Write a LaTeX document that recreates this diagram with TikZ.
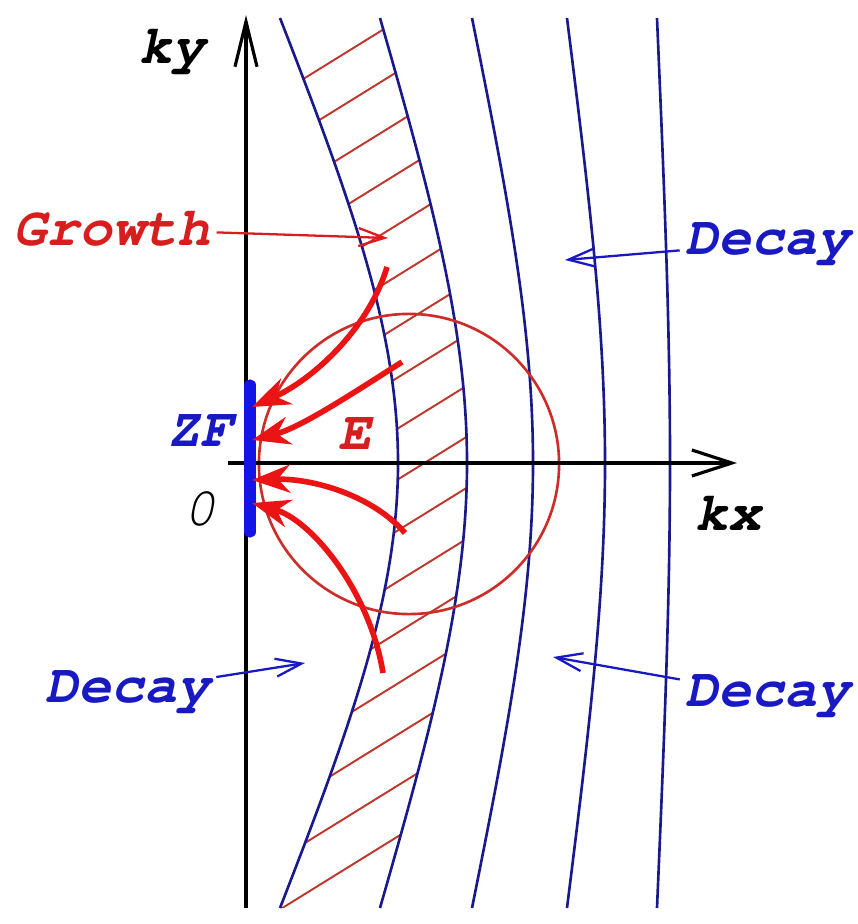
\documentclass[tikz,border=0pt]{standalone}
\usepackage[T1]{fontenc}
\usetikzlibrary{arrows.meta}
\definecolor{levelblue}{RGB}{25,25,140}
\definecolor{hatchred}{RGB}{190,55,45}
\definecolor{ringred}{RGB}{205,45,40}
\definecolor{flowred}{RGB}{235,20,20}
\definecolor{textred}{RGB}{215,30,30}
\definecolor{textblue}{RGB}{25,25,195}
\definecolor{zfblue}{RGB}{20,20,230}
\newcommand\labfont{\fontfamily{pcr}\fontseries{b}\fontshape{sl}\fontsize{15.6}{18}\selectfont}

\begin{document}
\begin{tikzpicture}[x=0.01cm, y=-0.01cm,
  lab/.style={font=\labfont, inner sep=1.5pt},
  level/.style={levelblue, line width=0.75pt},
  hatch/.style={hatchred, line width=0.55pt},
  flow/.style={flowred, line width=1.6pt, -{Stealth[length=3.8mm,width=2.8mm]}},
  pointer/.style={line width=0.65pt, -{Straight Barb[length=2.6mm,width=1.8mm]}}]
  \useasboundingbox (0,0) rectangle (858,924);
  % axes, origin at (246,463)
  \coordinate (O) at (246,463);
  \coordinate (yBot) at (246,908);
  \coordinate (yTop) at (246,15);
  \coordinate (xLeft) at (228,463);
  \coordinate (xRight) at (737,463);
  % hatched growth band between the first two levels
  \begin{scope}
    \clip (280,18) .. controls (351,200) and (398,330) .. (398,463)
      .. controls (398,596) and (351,726) .. (280,908)
      -- (380,908) .. controls (432,726) and (467,596) .. (467,463)
      .. controls (467,330) and (432,200) .. (380,18) -- cycle;
    \foreach \c in {112,163,...,930}
      \draw[hatch] (250,\c) -- ++(260,-161);
  \end{scope}
  % levels: top/bottom x and x on the kx axis
  \foreach \t/\a in {280/398, 380/467, 472/533, 567/605, 657/670} {
    \pgfmathsetmacro\cx{\t+0.6*(\a-\t)}
    \draw[level] (\t,18) .. controls (\cx,200) and (\a,330) .. (\a,463)
      .. controls (\a,596) and (\cx,726) .. (\t,908);
  }
  % E circle
  \draw[ringred, line width=0.75pt] (409,464) circle[radius=1.5cm];
  \draw[line width=0.9pt, -{Straight Barb[length=4.5mm,width=2.2mm]}] (yBot) -- (yTop);
  \draw[line width=0.9pt, -{Straight Barb[length=4mm,width=2.6mm]}] (xLeft) -- (xRight);
  % zonal flow bar
  \coordinate (zfTop) at (250,385);
  \coordinate (zfBot) at (250,532);
  \draw[zfblue, line width=3.2pt, line cap=round] (zfTop) -- (zfBot);
  % energy flow into ZF
  \coordinate (a1s) at (387,267);
  \coordinate (a1e) at (252,407);
  \coordinate (a2s) at (402,362);
  \coordinate (a2e) at (252,440);
  \coordinate (a3s) at (405,533);
  \coordinate (a3e) at (252,480);
  \coordinate (a4s) at (383,673);
  \coordinate (a4e) at (252,503);
  \draw[flow] (a1s) .. controls (368,330) and (312,380) .. (a1e);
  \draw[flow] (a2s) .. controls (350,395) and (300,428) .. (a2e);
  \draw[flow] (a3s) .. controls (372,495) and (312,478) .. (a3e);
  \draw[flow] (a4s) .. controls (370,592) and (312,520) .. (a4e);
  % labels
  \node[lab] (ky) at (172,50) {ky};
  \node[lab] (kx) at (728,513) {kx};
  \node[lab, textblue] (zf) at (200,431) {ZF};
  \node[lab, font=\fontfamily{pcr}\fontseries{m}\fontshape{sl}\fontsize{15.6}{18}\selectfont] (zero) at (200,508) {0};
  \node[lab, textred] (E) at (355,434) {E};
  \node[lab, textred] (growth) at (112,229) {Growth};
  \node[lab, textblue] (decayTR) at (768,243) {Decay};
  \node[lab, textblue] (decayL) at (128,691) {Decay};
  \node[lab, textblue] (decayBR) at (768,695) {Decay};
  \coordinate (growthTip) at (388,238);
  \coordinate (decayTRTip) at (565,260);
  \coordinate (decayLTip) at (305,663);
  \coordinate (decayBRTip) at (553,657);
  \draw[pointer, textred] (growth) -- (growthTip);
  \draw[pointer, textblue] (decayTR) -- (decayTRTip);
  \draw[pointer, textblue] (decayL) -- (decayLTip);
  \draw[pointer, textblue] (decayBR) -- (decayBRTip);
\end{tikzpicture}
\end{document}
